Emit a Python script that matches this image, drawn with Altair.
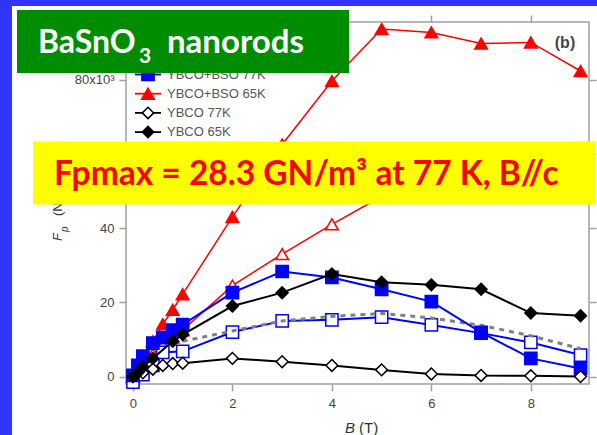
import altair as alt
import pandas as pd

# ---------------- data ----------------
B_BSO77 = [0, 0.1, 0.2, 0.4, 0.6, 0.8, 1, 2, 3, 4, 5, 6, 7, 8, 9]
FP_BSO77 = [0.3, 3, 5.5, 9, 10.5, 12.5, 14, 22.6, 28.3, 26.7, 23.5, 20.2, 11.9, 4.9, 2.2]

B_BSO65 = [0, 0.1, 0.2, 0.4, 0.6, 0.8, 1, 2, 3, 4, 5, 6, 7, 8, 9]
FP_BSO65 = [0, 2.5, 5, 9.5, 14.1, 18, 22.2, 43, 62.5, 79.6, 93.6, 92.7, 89.7, 90, 82.3]

B_Y77 = [0, 0.2, 0.4, 0.6, 0.8, 1, 2, 3, 4, 5, 6, 7, 8, 9]
FP_Y77 = [0, 1, 2, 3, 3.5, 3.6, 4.9, 4.0, 3.0, 1.8, 0.7, 0.3, 0.2, 0.0]

B_Y65 = [0, 0.1, 0.2, 0.4, 0.8, 1, 2, 3, 4, 5, 6, 7, 8, 9]
FP_Y65 = [0, 1.1, 2.6, 4.9, 9.5, 11.3, 19.0, 22.6, 27.6, 25.4, 24.7, 23.5, 17.1, 16.4]

B_BSO77_OPEN = [0, 0.2, 0.4, 0.6, 1, 2, 3, 4, 5, 6, 7, 8, 9]
FP_BSO77_OPEN = [-1.5, 0.5, 3, 6.5, 6.8, 12, 15, 15.3, 16, 13.9, 11.7, 9.2, 5.8]

B_BSO65_OPEN = [0, 0.2, 0.4, 0.6, 0.8, 1, 2, 3, 4, 5, 6, 7, 8, 9]
FP_BSO65_OPEN = [0, 3, 6, 8.5, 10.5, 12.5, 24.5, 33, 41, 48.5, 52, 54, 55, 54]

B_DOT = [1, 2, 3, 4, 5, 6, 7, 8, 9]
FP_DOT = [9.5, 12.3, 15, 16.2, 17, 15.8, 13.8, 11, 7.5]

X_TICKS = [0, 2, 4, 6, 8]
Y_TICKS = [0, 20, 40, 60, 80]
LEGEND_LABELS = ["YBCO+BSO 77K", "YBCO+BSO 65K", "YBCO 77K", "YBCO 65K"]

# ---------------- styles ----------------
BLUE = "#0000ff"
RED = "#ff0000"
BLACK = "#000000"
GRAY = "#808080"
FONT = "Liberation Sans"
BIGFONT = "Lato"

xscale = alt.Scale(domain=[-0.14, 9.17], nice=False, zero=False)
yscale = alt.Scale(domain=[-2.0, 95.5], nice=False, zero=False)

axis_common = dict(domain=False, ticks=True, tickSize=7, tickColor="#a0a0a0",
                   tickWidth=1.5, grid=False, labelFont=FONT, labelFontSize=13,
                   labelColor="#444444")

x_bottom = alt.Axis(orient="bottom", values=X_TICKS, labelPadding=6, **axis_common)
y_left = alt.Axis(orient="left", values=Y_TICKS, labelPadding=5,
                  labelExpr="datum.value == 80 ? '80x10\u00b3' : (datum.value == 60 ? '' : datum.label)",
                  **axis_common)
x_top = alt.Axis(orient="top", values=X_TICKS, labels=False, **axis_common)
y_right = alt.Axis(orient="right", values=Y_TICKS, labels=False, **axis_common)


def series(B, FP, color, shape=None, fill=None, size=150, sw=2.0, psw=1.5,
           xaxis=None, yaxis=None, dash=None):
    df = pd.DataFrame({"B": B, "Fp": FP})
    kw = dict(color=color, strokeWidth=sw)
    if dash:
        kw["strokeDash"] = dash
    if shape:
        kw["point"] = alt.OverlayMarkDef(shape=shape, size=size, filled=True,
                                         fill=fill, stroke=color, strokeWidth=psw,
                                         opacity=1)
    xe = alt.X("B:Q", scale=xscale, title=None, axis=xaxis)
    ye = alt.Y("Fp:Q", scale=yscale, title=None, axis=yaxis)
    return alt.Chart(df).mark_line(**kw).encode(x=xe, y=ye)


one = pd.DataFrame({"a": [0]})


def rect(x0, x1, y0, y1, color):
    return alt.Chart(one).mark_rect(color=color, opacity=1).encode(
        x=alt.value(x0), x2=alt.value(x1), y=alt.value(y0), y2=alt.value(y1))


def text(t, x, y, size, color, font=FONT, weight="normal", style="normal",
         align="left", baseline="alphabetic", angle=0):
    kw = dict(text=t, fontSize=size, color=color, font=font, fontWeight=weight,
              fontStyle=style, align=align, baseline=baseline)
    if angle:
        kw["angle"] = angle
    return alt.Chart(one).mark_text(**kw).encode(x=alt.value(x), y=alt.value(y))


# offsets: plot origin in the page
OX, OY = 126, 22

layers = [
    series(B_BSO65_OPEN, FP_BSO65_OPEN, RED, "triangle-up", "white", size=160, sw=1.5),
    series(B_BSO65, FP_BSO65, RED, "triangle-up", RED, size=160, sw=1.5,
           xaxis=x_bottom, yaxis=y_left),
    series(B_BSO77_OPEN, FP_BSO77_OPEN, BLUE, "square", "white"),
    series(B_DOT, FP_DOT, GRAY, None, sw=3, dash=[5, 5], xaxis=x_top, yaxis=y_right),
    series(B_BSO77, FP_BSO77, BLUE, "square", BLUE),
    series(B_Y77, FP_Y77, BLACK, "diamond", "white", size=140),
    series(B_Y65, FP_Y65, BLACK, "diamond", BLACK, size=140),
]

# legend (drawn by hand inside the plot)
leg_styles = [
    (BLUE, "square", BLUE, 150),
    (RED, "triangle-up", RED, 160),
    (BLACK, "diamond", "white", 130),
    (BLACK, "diamond", BLACK, 130),
]
for i, (lab, (col, shp, fil, sz)) in enumerate(zip(LEGEND_LABELS, leg_styles)):
    yy = 74.5 + 19.2 * i - OY
    layers.append(alt.Chart(one).mark_rule(color=col, strokeWidth=1.8).encode(
        x=alt.value(135 - OX), x2=alt.value(161 - OX), y=alt.value(yy)))
    layers.append(alt.Chart(one).mark_point(shape=shp, size=sz, filled=True, fill=fil,
                                            stroke=col, strokeWidth=1.5, opacity=1).encode(
        x=alt.value(148 - OX), y=alt.value(yy)))
    layers.append(text(lab, 167 - OX, yy, 13, "#555555", baseline="middle"))

# panel label
layers.append(text("(b)", 565 - OX, 43 - OY, 16, "#444444", weight="bold",
                   align="center", baseline="middle"))

# axis titles
layers.append(text("B", 345 - OX, 433 - OY, 15, "#333333", style="italic"))
layers.append(text("(T)", 359 - OX, 433 - OY, 15, "#333333"))
layers.append(text("F", 62 - OX, 241 - OY, 13, "#333333", style="italic", angle=270))
layers.append(text("p", 68 - OX, 232 - OY, 10, "#333333", style="italic", angle=270))
layers.append(text("(N/m\u00b3)", 62 - OX, 216 - OY, 13, "#333333", angle=270))

# page border and overlays
layers.append(rect(0 - OX, 12 - OX, 0 - OY, 435 - OY, "#3333ff"))
layers.append(rect(0 - OX, 597 - OX, 0 - OY, 6 - OY, "#3333ff"))
layers.append(rect(17 - OX, 349 - OX, 10 - OY, 73 - OY, "#008c00"))
layers.append(text("BaSnO", 38 - OX, 53 - OY, 32, "white", font=BIGFONT, weight="bold"))
layers.append(text("3", 139 - OX, 63 - OY, 21, "white", font=BIGFONT, weight="bold"))
layers.append(text("nanorods", 167 - OX, 53 - OY, 33, "white", font=BIGFONT, weight="bold"))
layers.append(rect(33 - OX, 596 - OX, 141.5 - OY, 204.5 - OY, "#ffff00"))
layers.append(text("Fpmax = 28.3 GN/m\u00b3 at 77 K, B//c", 54 - OX, 185 - OY, 33.5, RED,
                   font=BIGFONT, weight="bold"))

chart = alt.layer(*layers).resolve_axis(x="independent", y="independent").properties(
    width=463, height=362,
    autosize=alt.AutoSizeParams(type="none"),
    padding={"left": OX, "top": OY, "right": 8, "bottom": 51},
    background="white",
).configure_view(stroke="#a0a0a0", strokeWidth=1.5)

chart.save("out.html", embed_options={"renderer": "svg", "actions": False})
